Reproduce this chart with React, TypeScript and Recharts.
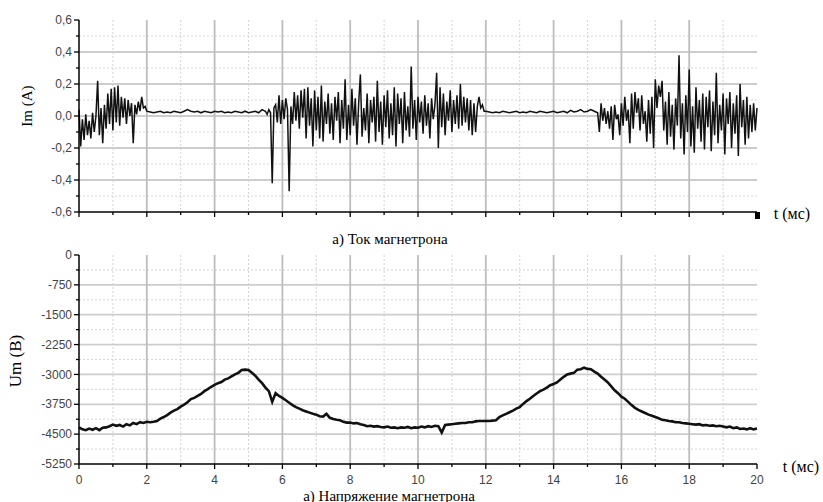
import { LineChart, Line, XAxis, YAxis, CartesianGrid } from "recharts";

// Im (A), noisy part 0..2 ms, step 0.05
const imBurst1 = [
  0.04, -0.19, -0.02, -0.15, 0.01, -0.12, -0.03, -0.14, 0.02, -0.1, 0.0,
  0.22, -0.12, 0.05, -0.17, 0.07, -0.08, 0.14, -0.05, 0.17, -0.09,
  0.18, -0.04, 0.19, -0.06, 0.12, -0.01, 0.11, -0.05, 0.1, 0.0,
  0.08, -0.17, 0.07, 0.01, 0.09, 0.03, 0.12, 0.05, 0.06, 0.03,
];
// flat 2.1..5.5 ms, step 0.1
const imFlat1 = [
  0.025, 0.02, 0.025, 0.03, 0.02, 0.025, 0.02, 0.03, 0.025, 0.02,
  0.03, 0.04, 0.03, 0.025, 0.03, 0.02, 0.03, 0.025, 0.02, 0.03,
  0.025, 0.03, 0.02, 0.025, 0.02, 0.03, 0.025, 0.02, 0.03, 0.02,
  0.025, 0.03, 0.02, 0.04, 0.03,
];
// noisy 5.55..11.95 ms, step 0.05
const imBurst2 = [
  0.01, 0.04, 0.02, -0.42, 0.05, 0.07, -0.04, 0.13, -0.05, 0.1,
  -0.02, 0.11, 0.04, -0.47, 0.06, -0.05, 0.15, -0.03, 0.13, -0.08,
  0.16, -0.01, 0.17, -0.14, 0.18, -0.06, 0.11, -0.19, 0.16, -0.09,
  0.12, -0.14, 0.19, -0.16, 0.09, -0.05, 0.14, -0.11, 0.08, -0.15,
  0.12, -0.03, 0.15, -0.17, 0.1, -0.08, 0.23, -0.15, 0.07, -0.12,
  0.17, -0.06, 0.11, -0.18, 0.08, 0.26, -0.13, 0.05, -0.09, 0.14,
  -0.17, 0.1, -0.04, 0.12, -0.16, 0.22, -0.1, 0.09, -0.18, 0.13,
  -0.07, 0.16, -0.14, 0.08, -0.12, 0.18, -0.19, 0.14, -0.05, 0.11,
  -0.17, 0.15, -0.09, 0.06, -0.13, 0.31, -0.08, 0.1, -0.15, 0.12,
  -0.04, 0.09, -0.11, 0.13, -0.06, 0.08, -0.14, 0.11, -0.02, 0.07,
  0.27, -0.2, 0.18, -0.07, 0.14, -0.12, 0.09, -0.03, 0.16, -0.1,
  0.1, -0.05, 0.13, -0.08, 0.2, -0.06, 0.12, -0.04, 0.11, -0.09,
  0.1, -0.12, 0.08, -0.1, 0.06, 0.12, 0.05, 0.07, 0.03,
];
// flat 12.0..15.3 ms, step 0.1
const imFlat2 = [
  0.03, 0.025, 0.02, 0.025, 0.02, 0.03, 0.025, 0.02, 0.025, 0.03,
  0.02, 0.025, 0.02, 0.03, 0.025, 0.02, 0.03, 0.025, 0.02, 0.025,
  0.03, 0.02, 0.025, 0.03, 0.02, 0.035, 0.025, 0.03, 0.04, 0.025,
  0.03, 0.04, 0.03, 0.02,
];
// noisy 15.35..20 ms, step 0.05
const imBurst3 = [
  -0.1, 0.08, -0.03, 0.05, -0.05, 0.03, -0.08, 0.06, -0.15, 0.07,
  -0.02, 0.01, -0.12, 0.08, -0.06, 0.12, -0.03, 0.04, -0.17, 0.14,
  -0.08, 0.15, 0.02, 0.11, -0.09, 0.13, -0.05, 0.03, -0.16, 0.1,
  -0.11, 0.12, -0.2, 0.23, 0.05, 0.19, 0.12, 0.22, -0.09, 0.09,
  -0.18, 0.15, -0.13, 0.07, -0.21, 0.11, -0.06, 0.38, -0.14, 0.08,
  -0.24, 0.13, -0.1, 0.29, -0.19, 0.06, -0.23, 0.18, -0.08, 0.1,
  -0.16, 0.14, -0.21, 0.12, -0.07, 0.16, -0.22, 0.09, -0.12, 0.27,
  -0.17, 0.07, -0.09, 0.14, -0.24, 0.11, -0.05, 0.15, -0.2, 0.08,
  -0.11, 0.13, -0.25, 0.2, -0.07, 0.1, -0.18, 0.12, -0.14, 0.07,
  -0.1, 0.08, -0.09, 0.05,
];

// Um (B), 0..20 ms, step 0.1
const umValues = [
  -4330, -4380, -4400, -4360, -4390, -4350, -4400, -4340, -4330, -4300,
  -4260, -4290, -4270, -4310, -4250, -4280, -4220, -4250, -4200, -4220,
  -4190, -4200, -4190, -4170, -4110, -4070, -4020, -3960, -3910, -3870,
  -3810, -3760, -3700, -3620, -3590, -3540, -3490, -3420, -3370, -3310,
  -3260, -3220, -3190, -3130, -3100, -3050, -3000, -2960, -2890, -2880,
  -2890, -2960, -3030, -3130, -3220, -3330, -3420, -3690, -3470, -3540,
  -3590, -3650, -3710, -3770, -3820, -3860, -3900, -3930, -3960, -3990,
  -4010, -4050, -4060, -3990, -4090, -4120, -4140, -4150, -4190, -4210,
  -4210, -4230, -4220, -4250, -4270, -4300, -4290, -4310, -4300, -4320,
  -4330, -4310, -4340, -4330, -4350, -4330, -4340, -4320, -4350, -4330,
  -4340, -4310, -4330, -4300, -4320, -4290, -4300, -4460, -4270, -4260,
  -4250, -4240, -4230, -4220, -4220, -4200, -4200, -4180, -4170, -4170,
  -4170, -4170, -4160, -4150, -4070, -4030, -3990, -3950, -3910, -3860,
  -3820, -3740, -3670, -3610, -3540, -3480, -3420, -3380, -3330, -3270,
  -3240, -3200, -3130, -3060, -3000, -2980, -2960, -2880, -2870, -2830,
  -2860, -2870, -2930, -2980, -3060, -3130, -3200, -3300, -3400, -3470,
  -3560, -3610, -3690, -3770, -3840, -3890, -3930, -3970, -4010, -4040,
  -4070, -4100, -4140, -4150, -4170, -4180, -4200, -4200, -4220, -4230,
  -4240, -4250, -4260, -4250, -4280, -4270, -4290, -4280, -4300, -4290,
  -4310, -4330, -4310, -4350, -4330, -4370, -4360, -4380, -4350, -4380,
  -4360,
];

const timeTicks = [0, 1, 2, 3, 4, 5, 6, 7, 8, 9, 10, 11, 12, 13, 14, 15, 16, 17, 18, 19, 20];
const imTicks = [-0.6, -0.5, -0.4, -0.3, -0.2, -0.1, 0, 0.1, 0.2, 0.3, 0.4, 0.5, 0.6];
const umTicks = [0, -375, -750, -1125, -1500, -1875, -2250, -2625, -3000, -3375, -3750, -4125, -4500, -4875, -5250];

const seg = (start: number, step: number, vals: number[]) =>
  vals.map((v, i) => ({ t: +(start + i * step).toFixed(3), v }));

const imData = [
  ...seg(0, 0.05, imBurst1),
  ...seg(2.1, 0.1, imFlat1),
  ...seg(5.55, 0.05, imBurst2),
  ...seg(12, 0.1, imFlat2),
  ...seg(15.35, 0.05, imBurst3),
];
const umData = seg(0, 0.1, umValues);

const tickFont = { fontFamily: "Liberation Sans, Arial, sans-serif", fontSize: 12, fill: "#444" };
const serif = "'Liberation Serif', 'Times New Roman', serif";

const isMajorIm = (v: number) => Math.round(Math.abs(v) * 10) % 2 === 0;
const isMajorUm = (v: number) => v % 750 === 0;
const isMajorT = (v: number) => v % 2 === 0;

function YTick(props: any) {
  const { x, y, payload, kind } = props;
  const v = payload.value as number;
  const major = kind === "im" ? isMajorIm(v) : isMajorUm(v);
  const label = kind === "im" ? v.toFixed(1).replace(".", ",") : String(v);
  return (
    <g>
      <line x1={x} x2={x - (major ? 5 : 3)} y1={y} y2={y} stroke="#000" strokeWidth={1.3} />
      {major && (
        <text x={x - 7} y={y} dy="0.35em" textAnchor="end" {...tickFont}>
          {label}
        </text>
      )}
    </g>
  );
}

function XTick(props: any) {
  const { x, y, payload, labels } = props;
  const v = payload.value as number;
  const major = isMajorT(v);
  return (
    <g>
      {!labels && v === 20 ? (
        <rect x={x - 2} y={y} width={5} height={7} fill="#000" />
      ) : (
        <line x1={x} x2={x} y1={y} y2={y + (major ? 5 : 3)} stroke="#000" strokeWidth={1.3} />
      )}
      {labels && major && (
        <text x={x} y={y + 20} textAnchor="middle" {...tickFont}>
          {v}
        </text>
      )}
    </g>
  );
}

const oddT = timeTicks.filter((t) => t % 2 === 1);
const evenT = timeTicks.filter((t) => t % 2 === 0 && t > 0 && t < 20);

function Panel(props: {
  data: { t: number; v: number }[];
  kind: "im" | "um";
  height: number;
  xAxisHeight: number;
}) {
  const { data, kind, height, xAxisHeight } = props;
  const yTicks = kind === "im" ? imTicks : umTicks;
  const domain = kind === "im" ? [-0.6, 0.6] : [-5250, 0];
  const majorY = yTicks.filter((v) => (kind === "im" ? isMajorIm(v) : isMajorUm(v)) && v !== domain[0] && v !== domain[1]);
  const minorY = yTicks.filter((v) => !(kind === "im" ? isMajorIm(v) : isMajorUm(v)));
  return (
    <LineChart width={823} height={height} data={data} margin={{ top: 20, right: 66, bottom: 0, left: 0 }}>
      <CartesianGrid horizontal={false} verticalValues={oddT} stroke="#d4d4d4" strokeDasharray="2 2" />
      <CartesianGrid vertical={false} horizontalValues={minorY} stroke="#d4d4d4" strokeDasharray="2 2" />
      <CartesianGrid vertical={false} horizontalValues={majorY} stroke="#cdcdcd" strokeWidth={1.8} />
      <CartesianGrid horizontal={false} verticalValues={evenT} stroke="#bdbdbd" strokeWidth={1.8} />
      <XAxis
        dataKey="t"
        type="number"
        domain={[0, 20]}
        ticks={timeTicks}
        interval={0}
        height={xAxisHeight}
        tickLine={false}
        tickSize={0}
        tickMargin={0}
        axisLine={{ stroke: "#000", strokeWidth: 1.5 }}
        tick={(p: any) => <XTick {...p} labels={kind === "um"} />}
      />
      <YAxis
        type="number"
        domain={domain}
        ticks={yTicks}
        interval={0}
        width={79}
        tickLine={false}
        tickSize={0}
        tickMargin={0}
        axisLine={{ stroke: "#000", strokeWidth: 1.5 }}
        tick={(p: any) => <YTick {...p} kind={kind} />}
        allowDataOverflow
      />
      <Line
        dataKey="v"
        type="linear"
        stroke="#111"
        strokeWidth={kind === "im" ? 1.5 : 2.6}
        dot={false}
        isAnimationActive={false}
      />
    </LineChart>
  );
}

export default function App() {
  const abs = (left: number, top: number, size: number, rotate = false): React.CSSProperties => ({
    position: "absolute",
    left,
    top,
    fontFamily: serif,
    fontSize: size,
    color: "#000",
    whiteSpace: "nowrap",
    lineHeight: 1,
    transform: rotate ? "translate(-50%, -50%) rotate(-90deg)" : "translate(-50%, -50%)",
  });
  return (
    <div style={{ position: "absolute", left: 0, top: 0, width: 823, height: 502, background: "#fff" }}>
      <div style={{ position: "absolute", left: 0, top: 0 }}>
        <Panel data={imData} kind="im" height={230} xAxisHeight={18} />
      </div>
      <div style={{ position: "absolute", left: 0, top: 235 }}>
        <Panel data={umData} kind="um" height={259} xAxisHeight={30} />
      </div>
      <div style={abs(27, 106, 15, true)}>Im (A)</div>
      <div style={abs(15, 361, 17, true)}>Um (B)</div>
      <div style={abs(792, 214, 16)}>t (мс)</div>
      <div style={abs(801, 467, 16)}>t (мс)</div>
      <div style={abs(390, 239, 15)}>а) Ток магнетрона</div>
      <div style={abs(389, 496, 15)}>а) Напряжение магнетрона</div>
    </div>
  );
}
